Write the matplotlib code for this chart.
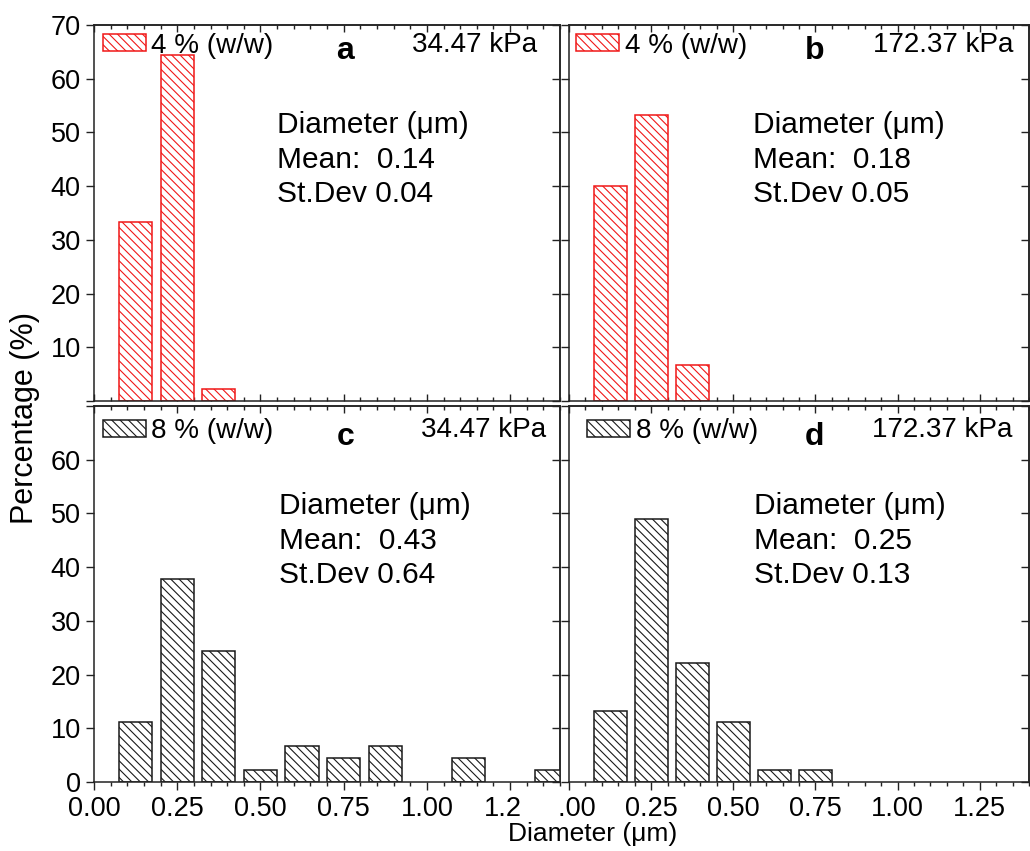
import matplotlib
matplotlib.use("Agg")
import matplotlib.pyplot as plt
from matplotlib.ticker import MultipleLocator, FixedLocator, FixedFormatter
from matplotlib.patches import Rectangle

plt.rcParams['font.family'] = ['Liberation Sans', 'DejaVu Sans']
plt.rcParams['hatch.linewidth'] = 0.8

# ---------------- data ----------------
bin_centers = [0.125, 0.25, 0.375, 0.5, 0.625, 0.75, 0.875, 1.0, 1.125, 1.25, 1.375]
pct_a = [33.3, 64.4, 2.2]
pct_b = [40.0, 53.3, 6.7]
pct_c = [11.1, 37.8, 24.4, 2.2, 6.7, 4.4, 6.7, 0.0, 4.4, 0.0, 2.2]
pct_d = [13.3, 48.9, 22.2, 11.1, 2.2, 2.2]

series_labels = ['4 % (w/w)', '4 % (w/w)', '8 % (w/w)', '8 % (w/w)']
panel_letters = ['a', 'b', 'c', 'd']
pressures = ['34.47 kPa', '172.37 kPa', '34.47 kPa', '172.37 kPa']
means = ['0.14', '0.18', '0.43', '0.25']
stdevs = ['0.04', '0.05', '0.64', '0.13']

xtick_values = [0.0, 0.25, 0.5, 0.75, 1.0, 1.25]
xtick_labels = ['0.00', '0.25', '0.50', '0.75', '1.00', '1.25']
ytick_values = [0, 10, 20, 30, 40, 50, 60, 70]
ytick_labels_top = ['', '10', '20', '30', '40', '50', '60', '70']
ytick_labels_bottom = ['0', '10', '20', '30', '40', '50', '60', '']

# ---------------- layout ----------------
W, H = 1030, 851
fig = plt.figure(figsize=(W / 100, H / 100), dpi=100)
fig.patch.set_facecolor('white')

def add_ax(x0, y0, x1, y1):
    return fig.add_axes([x0 / W, 1 - y1 / H, (x1 - x0) / W, (y1 - y0) / H])

rects = [(94, 25, 560, 401), (569, 25, 1029, 401),
         (94, 406, 560, 782), (569, 406, 1029, 782)]
data = [pct_a, pct_b, pct_c, pct_d]
colors = ['#f01818', '#f01818', '#1a1a1a', '#1a1a1a']
spine_col = '#222222'
FS_TICK = 19.5
FS_LEG = 20
FS_TXT = 21.5

# per-panel text positions (axes fractions)
legend_anchor = [(0.019, 0.980), (0.015, 0.980), (0.019, 0.967), (0.039, 0.967)]
letter_pos = [(0.539, 0.932), (0.535, 0.932), (0.540, 0.918), (0.534, 0.918)]
press_right = [(0.951, 0.947), (0.967, 0.947), (0.970, 0.936), (0.963, 0.936)]
ann_x = [0.393, 0.400, 0.398, 0.402]
ann_y = [0.735, 0.642, 0.550]

for i, (r, vals) in enumerate(zip(rects, data)):
    ax = add_ax(*r)
    xs = [x for x, v in zip(bin_centers, vals) if v > 0]
    hs = [v for v in vals if v > 0]
    ax.bar(xs, hs, width=0.1, facecolor='white', edgecolor=colors[i],
           hatch='\\\\\\\\', linewidth=1.1, label=series_labels[i], zorder=2)
    ax.set_xlim(0, 1.4)
    ax.set_ylim(0, 70)
    for s in ax.spines.values():
        s.set_linewidth(1.1)
        s.set_color(spine_col)
        s.set_zorder(5)

    top_row = i < 2
    left_col = i % 2 == 0

    # x axis (bottom)
    ax.xaxis.set_major_locator(FixedLocator(xtick_values))
    ax.xaxis.set_minor_locator(MultipleLocator(0.05))
    if top_row:
        ax.xaxis.set_major_formatter(FixedFormatter([''] * len(xtick_values)))
        ax.tick_params(axis='x', which='major', direction='in', length=5, width=1.0,
                       labelbottom=False, color=spine_col)
        ax.tick_params(axis='x', which='minor', direction='in', length=3, width=1.0,
                       color=spine_col)
    else:
        ax.xaxis.set_major_formatter(FixedFormatter(xtick_labels))
        ax.tick_params(axis='x', which='major', direction='out', length=6, width=1.0,
                       labelsize=FS_TICK, pad=4, color=spine_col)
        ax.tick_params(axis='x', which='minor', direction='out', length=3, width=1.0,
                       color=spine_col)
    # y axis (left)
    ax.yaxis.set_major_locator(FixedLocator(ytick_values))
    ax.yaxis.set_major_formatter(FixedFormatter(ytick_labels_top if top_row else ytick_labels_bottom))
    ax.tick_params(axis='y', which='major', direction='out', length=6, width=1.0,
                   labelsize=FS_TICK, labelleft=left_col, color=spine_col)

    # top ticks (inward)
    sx = ax.secondary_xaxis('top')
    sx.xaxis.set_major_locator(FixedLocator(xtick_values))
    sx.xaxis.set_minor_locator(MultipleLocator(0.05))
    sx.tick_params(axis='x', which='major', direction='in', length=5, width=1.0,
                   labeltop=False, color=spine_col)
    sx.tick_params(axis='x', which='minor', direction='in', length=3, width=1.0,
                   color=spine_col)
    sx.spines['top'].set_linewidth(1.1)
    sx.spines['top'].set_color(spine_col)
    # right ticks (inward)
    sy = ax.secondary_yaxis('right')
    sy.yaxis.set_major_locator(FixedLocator(ytick_values))
    sy.tick_params(axis='y', which='major', direction='in', length=6, width=1.0,
                   labelright=False, color=spine_col)
    sy.spines['right'].set_linewidth(1.1)
    sy.spines['right'].set_color(spine_col)

    ax.legend(loc='upper left', bbox_to_anchor=legend_anchor[i], frameon=False,
              fontsize=FS_LEG, handlelength=1.55, handleheight=0.55,
              handletextpad=0.2, borderpad=0, borderaxespad=0)

    ax.text(*letter_pos[i], panel_letters[i], transform=ax.transAxes, fontsize=23,
            fontweight='bold', ha='center', va='center')
    ax.text(*press_right[i], pressures[i], transform=ax.transAxes, fontsize=FS_LEG,
            ha='right', va='center')
    ax.text(ann_x[i], ann_y[0], 'Diameter (μm)', transform=ax.transAxes,
            fontsize=FS_TXT, ha='left', va='center')
    ax.text(ann_x[i], ann_y[1], 'Mean:  ' + means[i], transform=ax.transAxes,
            fontsize=FS_TXT, ha='left', va='center')
    ax.text(ann_x[i], ann_y[2], 'St.Dev ' + stdevs[i], transform=ax.transAxes,
            fontsize=FS_TXT, ha='left', va='center')

# overlap of the two lower panels hides parts of tick labels
fig.add_artist(Rectangle((522 / W, 1 - 820 / H), (557 - 522) / W, (820 - 787) / H,
                         transform=fig.transFigure, facecolor='white',
                         edgecolor='none', zorder=10))

fig.text(25 / W, 1 - 418 / H, 'Percentage (%)', rotation=90, ha='center',
         va='center', fontsize=22)
fig.text(593 / W, 1 - 834 / H, 'Diameter (μm)', ha='center', va='center',
         fontsize=19)

fig.savefig('out.png', dpi=100, facecolor='white')
